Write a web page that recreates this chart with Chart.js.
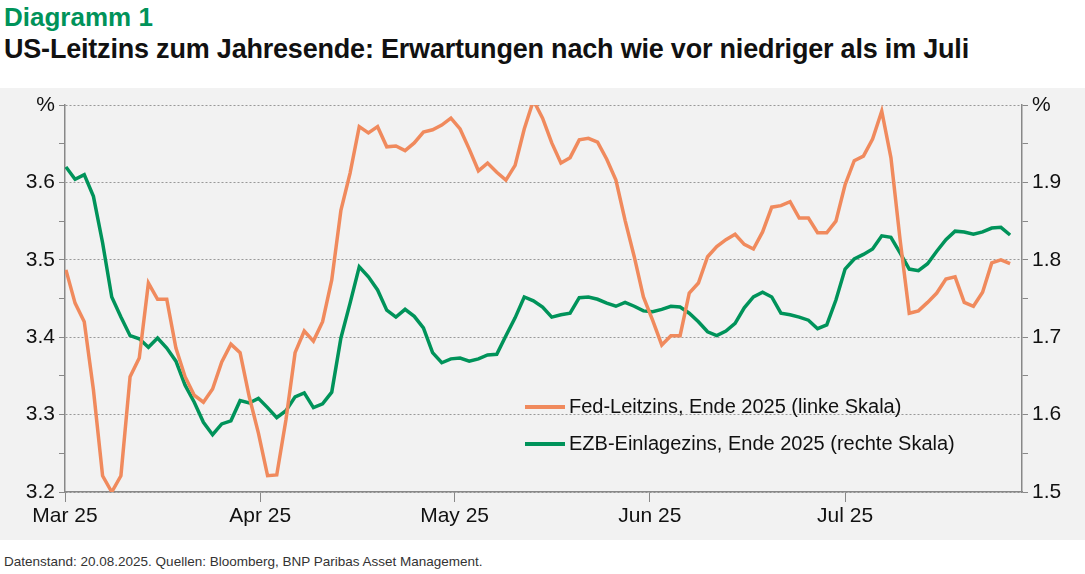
<!DOCTYPE html>
<html>
<head>
<meta charset="utf-8">
<script src="https://cdn.jsdelivr.net/npm/chart.js@4"></script>
<style>
  body { margin:0; width:1085px; height:574px; background:#fff; font-family:"Liberation Sans",Roboto,sans-serif; position:relative; overflow:hidden; }
  #t1 { position:absolute; left:4px; top:2px; font-size:26px; font-weight:bold; color:#00935a; }
  #t2 { position:absolute; left:4px; top:34px; font-size:27px; font-weight:bold; color:#111; letter-spacing:-0.2px; }
  #panel { position:absolute; left:0; top:88px; width:1085px; height:452px; background:#f2f2f2; }
  #legend { position:absolute; left:525px; top:388px; font-size:20px; color:#111; }
  #legend div { height:37px; display:flex; align-items:center; }
  #legend span.sw { display:inline-block; width:40px; height:4px; margin-right:4px; }
  #foot { position:absolute; left:4px; top:554px; font-size:13.5px; color:#333; }
</style>
</head>
<body>
<div id="t1">Diagramm 1</div>
<div id="t2">US-Leitzins zum Jahresende: Erwartungen nach wie vor niedriger als im Juli</div>
<div id="panel"><canvas id="c" width="1085" height="452"></canvas></div>
<div id="legend">
  <div><span class="sw" style="background:#f08a5d"></span>Fed-Leitzins, Ende 2025 (linke Skala)</div>
  <div><span class="sw" style="background:#00935a"></span>EZB-Einlagezins, Ende 2025 (rechte Skala)</div>
</div>
<div id="foot">Datenstand: 20.08.2025. Quellen: Bloomberg, BNP Paribas Asset Management.</div>
<script>
// series values (daily observations, Mar - Aug 2025)
const fedValues = [3.487,3.444,3.420,3.332,3.221,3.200,3.221,3.349,3.373,3.470,3.449,3.449,3.386,3.349,3.325,3.316,3.333,3.368,3.391,3.380,3.323,3.276,3.221,3.222,3.293,3.380,3.408,3.395,3.420,3.474,3.564,3.612,3.672,3.664,3.672,3.646,
  3.647,3.641,3.651,3.665,3.668,3.674,3.683,3.669,3.643,3.615,3.625,3.613,3.603,3.622,3.669,3.706,3.683,3.651,3.625,3.632,3.655,3.657,3.652,3.630,3.603,3.551,3.504,3.452,3.422,3.390,3.402,3.402,3.457,3.470,3.504,
  3.517,3.526,3.533,3.520,3.514,3.536,3.568,3.570,3.575,3.554,3.554,3.535,3.535,3.550,3.597,3.628,3.634,3.656,3.692,3.632,3.526,3.431,3.434,3.445,3.457,3.475,3.478,3.445,3.440,3.458,3.496,3.500,3.495];
const ezbValues = [1.920,1.904,1.910,1.882,1.822,1.752,1.726,1.702,1.698,1.687,1.699,1.686,1.669,1.638,1.616,1.590,1.574,1.588,1.592,1.618,1.615,1.621,1.609,1.596,1.605,1.623,1.628,1.609,1.614,1.629,1.699,1.744,1.791,1.778,1.761,1.735,
  1.726,1.736,1.727,1.712,1.680,1.667,1.672,1.673,1.669,1.672,1.677,1.678,1.702,1.725,1.752,1.747,1.739,1.726,1.729,1.731,1.751,1.752,1.749,1.744,1.740,1.745,1.740,1.734,1.733,1.736,1.740,1.739,1.731,1.720,1.707,
  1.702,1.708,1.718,1.738,1.752,1.758,1.752,1.731,1.729,1.726,1.722,1.711,1.716,1.748,1.788,1.801,1.807,1.814,1.831,1.829,1.809,1.788,1.786,1.795,1.811,1.826,1.837,1.836,1.833,1.836,1.841,1.842,1.832];
// month tick labels and their position in observation index
const monthLabels = ['Mar 25','Apr 25','May 25','Jun 25','Jul 25'];
const monthPos = [-0.1,21.2,42.4,63.7,85];

const fedPts = fedValues.map((v,i) => ({x:i, y:v}));
const ezbPts = ezbValues.map((v,i) => ({x:i, y:v}));

const fnt = {family:'"Liberation Sans",Roboto,sans-serif', size:21};
const isMajor = (v) => Math.abs(Math.round(v*10) - v*10) < 0.01;

new Chart(document.getElementById('c'), {
  type: 'line',
  data: {
    datasets: [
      {label:'Fed-Leitzins, Ende 2025 (linke Skala)', data:fedPts, yAxisID:'y', borderColor:'#f08a5d', borderWidth:3.5, pointRadius:0},
      {label:'EZB-Einlagezins, Ende 2025 (rechte Skala)', data:ezbPts, yAxisID:'y1', borderColor:'#00935a', borderWidth:3.5, pointRadius:0}
    ]
  },
  options: {
    responsive:false, animation:false,
    layout:{padding:{top:17, bottom:0, left:0, right:0}},
    plugins:{legend:{display:false}, tooltip:{enabled:false}},
    scales: {
      x: {
        type:'linear', min:-0.1, max:104.3,
        afterBuildTicks: ax => { ax.ticks = monthPos.map(p => ({value:p})); },
        afterFit: ax => { ax.height = 48; },
        ticks:{ callback:(v,i) => monthLabels[i], color:'#111', font:fnt, maxRotation:0, autoSkip:false, padding:2 },
        grid:{ drawOnChartArea:false, color:'#888', tickLength:10 },
        border:{ color:'#888', width:1.5 }
      },
      y: {
        position:'left', min:3.2, max:3.7,
        afterBuildTicks: ax => { const t=[]; for (let v=3.2; v<=3.701; v+=0.05) t.push({value:Math.round(v*100)/100}); ax.ticks=t; },
        afterFit: ax => { ax.width = 65; },
        ticks:{ color:'#111', font:fnt, autoSkip:false, padding:4,
          callback: v => !isMajor(v) ? '' : (Math.abs(v-3.7)<0.001 ? '%' : v.toFixed(1)) },
        grid:{ color: c => isMajor(c.tick.value) ? '#999' : 'transparent', tickColor:'#888', tickLength:6, lineWidth:1 },
        border:{ color:'#888', width:1.5, dash:[2,2] }
      },
      y1: {
        position:'right', min:1.5, max:2.0,
        afterBuildTicks: ax => { const t=[]; for (let v=1.5; v<=2.001; v+=0.05) t.push({value:Math.round(v*100)/100}); ax.ticks=t; },
        afterFit: ax => { ax.width = 63; },
        ticks:{ color:'#111', font:fnt, autoSkip:false, padding:4,
          callback: v => !isMajor(v) ? '' : (Math.abs(v-2.0)<0.001 ? '%' : v.toFixed(1)) },
        grid:{ drawOnChartArea:false, color:'#888', tickLength:6 },
        border:{ color:'#888', width:1.5 }
      }
    }
  }
});
</script>
</body>
</html>
